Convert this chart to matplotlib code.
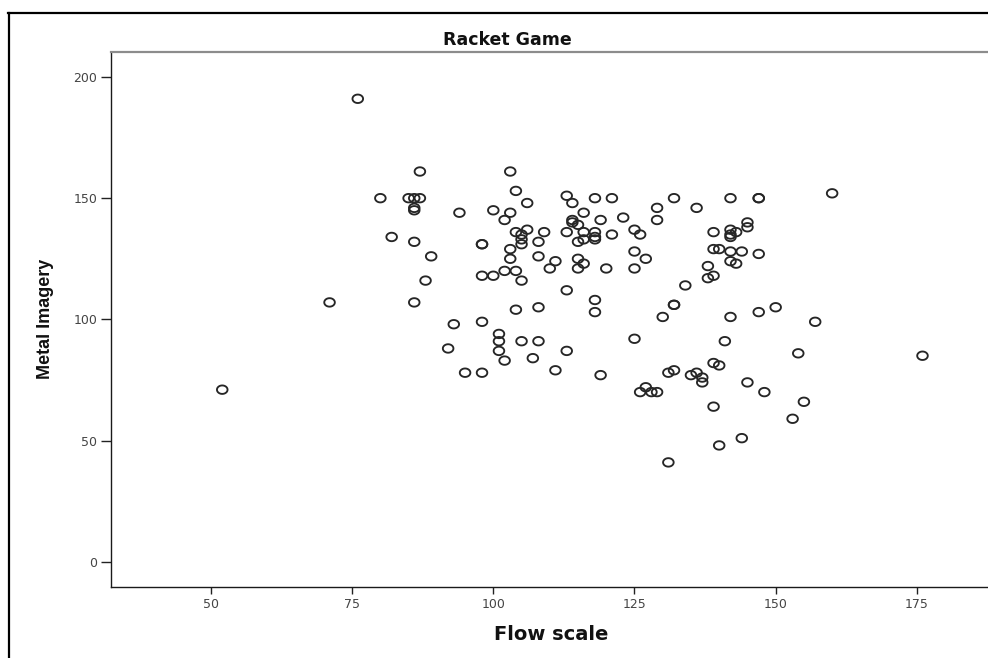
import numpy as np
import matplotlib
matplotlib.use("Agg")
import matplotlib.pyplot as plt
from matplotlib.path import Path
from matplotlib.lines import Line2D

# ---- data ----
title = "Racket Game"
x_label = "Flow scale"
y_label = "Metal Imagery"
x_ticks = [50, 75, 100, 125, 150, 175]
y_ticks = [0, 50, 100, 150, 200]

flow = [52, 71, 76, 80, 82, 85, 86, 87, 86, 86, 87, 86, 89, 88, 86, 93, 92, 94,
        95, 98, 98, 98, 98, 98, 100, 100, 101, 101, 101, 102, 102, 102, 103, 103,
        103, 103, 104, 104, 104, 104, 105, 105, 105, 105, 105, 106, 106, 107, 108,
        108, 108, 108, 109, 110, 111, 111, 113, 113, 113, 113, 114, 114, 114, 115,
        115, 115, 115, 116, 116, 116, 116, 118, 118, 118, 118, 118, 118, 119, 119,
        120, 121, 121, 123, 125, 125, 125, 125, 126, 127, 126, 127, 128, 129, 129,
        129, 130, 131, 132, 131, 132, 132, 132, 134, 135, 136, 136, 137, 137, 138,
        138, 139, 139, 140, 139, 139, 140, 139, 140, 141, 142, 142, 142, 142, 143,
        145, 145, 142, 144, 147, 142, 143, 142, 144, 145, 147, 147, 147, 148, 150,
        153, 154, 155, 157, 160, 176]
metal = [71, 107, 191, 150, 134, 150, 150, 150, 145, 146, 161, 132, 126, 116, 107, 98, 88, 144,
         78, 78, 99, 118, 131, 131, 118, 145, 94, 91, 87, 141, 120, 83, 161, 144,
         129, 125, 153, 136, 120, 104, 135, 133, 131, 116, 91, 148, 137, 84, 132,
         126, 105, 91, 136, 121, 124, 79, 151, 136, 112, 87, 148, 141, 140, 139,
         132, 125, 121, 144, 136, 133, 123, 150, 136, 133, 134, 108, 103, 141, 77,
         121, 150, 135, 142, 137, 128, 121, 92, 135, 125, 70, 72, 70, 70, 146,
         141, 101, 78, 79, 41, 150, 106, 106, 114, 77, 146, 78, 76, 74, 122,
         117, 136, 129, 129, 118, 82, 81, 64, 48, 91, 150, 137, 135, 134, 136,
         140, 138, 128, 128, 127, 124, 123, 101, 51, 74, 150, 150, 103, 70, 105,
         59, 86, 66, 99, 152, 85]

# ---- figure ----
W, H = 988, 658
fig = plt.figure(figsize=(W / 100, H / 100), dpi=100)
fig.patch.set_facecolor("white")

L, R, T, B = 111, 988, 52, 587
ax = fig.add_axes([L / W, 1 - B / H, (R - L) / W, (B - T) / H])
ax.set_xlim(32.3, 187.6)
ax.set_ylim(-10.4, 210.3)

# slightly wide elliptical open marker (reference is horizontally stretched)
t = np.linspace(0, 2 * np.pi, 60)
ell = Path(np.column_stack([np.cos(t), 0.8 * np.sin(t)]), closed=True)

ax.scatter(flow, metal, s=58, marker=ell, facecolors="none",
           edgecolors="#262626", linewidths=1.35, zorder=3)

# spines
ax.spines["right"].set_visible(False)
ax.spines["left"].set_color("#1a1a1a")
ax.spines["bottom"].set_color("#1a1a1a")
ax.spines["left"].set_linewidth(1.0)
ax.spines["bottom"].set_linewidth(1.0)
ax.spines["top"].set_color("#8c8c8c")
ax.spines["top"].set_linewidth(1.6)

ax.set_xticks(x_ticks)
ax.set_yticks(y_ticks)
ax.set_xticklabels([str(v) for v in x_ticks])
ax.set_yticklabels([str(v) for v in y_ticks])
ax.tick_params(axis="x", direction="out", length=5, width=1.0, color="#222222",
               pad=3, labelsize=9, labelcolor="#444444")
ax.tick_params(axis="y", direction="out", length=7, width=1.0, color="#222222",
               pad=3, labelsize=9, labelcolor="#444444")
for lab in ax.get_xticklabels() + ax.get_yticklabels():
    lab.set_family("DejaVu Sans")

ax.set_xlabel(x_label, fontsize=14, fontweight="bold", family="DejaVu Sans",
              va="center", color="#111111")
ax.xaxis.set_label_coords((551 - L) / (R - L), (B - 635) / (B - T))
ax.set_ylabel(y_label, fontsize=13, fontweight="bold", family="Liberation Sans",
              va="center", color="#111111")
ax.yaxis.set_label_coords((45 - L) / (R - L), (B - 319) / (B - T))

fig.text(507 / W, 1 - 40 / H, title, ha="center", va="center", fontsize=12.5,
         fontweight="bold", family="DejaVu Sans", color="#111111")

# outer frame lines (top and left)
fig.add_artist(Line2D([8 / W, 1.0], [1 - 13 / H, 1 - 13 / H],
                      transform=fig.transFigure, color="black", linewidth=1.6))
fig.add_artist(Line2D([9 / W, 9 / W], [1 - 13 / H, 0.0],
                      transform=fig.transFigure, color="black", linewidth=1.6))

fig.savefig("out.png", dpi=100, facecolor="white")
